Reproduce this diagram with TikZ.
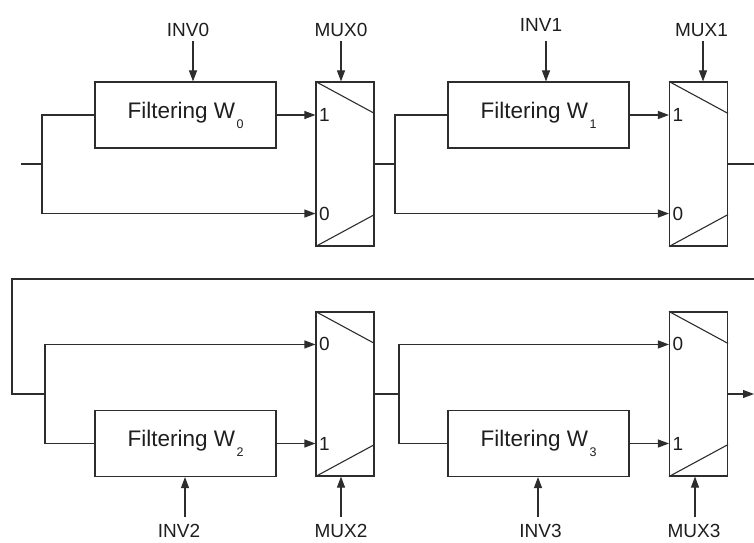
\documentclass[tikz,border=0pt]{standalone}
\usepackage{fontspec}
\setmainfont{Liberation Sans}
\usetikzlibrary{positioning,arrows.meta,calc}
\definecolor{wire}{RGB}{45,45,45}
\definecolor{ink}{RGB}{30,30,30}
\tikzset{
  wireline/.style = {draw=wire, line width=1.1pt},
  sig/.style      = {wireline, -{Triangle[length=11pt,width=8pt]}},
  filt/.style     = {wireline, minimum width=181pt, minimum height=66pt, inner sep=0pt,
                     font=\fontsize{22.5}{26}\selectfont, text=ink},
  mux/.style      = {wireline, minimum width=58pt, minimum height=164pt, inner sep=0pt},
  lbl/.style      = {font=\fontsize{19}{22}\selectfont, text=ink, inner sep=0pt},
  pin/.style      = {lbl, anchor=west},
}
\newcommand{\wsub}[1]{\kern1.5pt\raisebox{-10pt}{\fontsize{12.5}{13}\selectfont #1}}

\begin{document}
\begin{tikzpicture}[x=1pt,y=1pt]
  \useasboundingbox (0,0) rectangle (754,542);
  % stage 0 and 1
  \node[filt] (f0) at (185.5,427) {Filtering W\wsub{0}};
  \node[mux]  (m0) at (345,378) {};
  \node[filt] (f1) at (538.5,427) {Filtering W\wsub{1}};
  \node[mux]  (m1) at (698.5,378) {};
  % stage 2 and 3
  \node[filt] (f2) at (185.5,98.5) {Filtering W\wsub{2}};
  \node[mux]  (m2) at (345,148) {};
  \node[filt] (f3) at (538.5,98.5) {Filtering W\wsub{3}};
  \node[mux]  (m3) at (698.5,148) {};
  \foreach \m in {m0,m1,m2,m3} {
    \draw[wireline] (\m.north west) -- ($(\m.north east)+(0,-32)$);
    \draw[wireline] (\m.south west) -- ($(\m.south east)+(0,32)$);
  }
  % branch points and free ends
  \coordinate (in0) at (21,378);
  \coordinate (b0) at (42,378);
  \coordinate (b1) at (395,378);
  \coordinate (out1) at (754,378);
  \coordinate (fbR) at (754,263);
  \coordinate (fbL) at (12,263);
  \coordinate (b2) at (45,148);
  \coordinate (b3) at (399,148);
  \coordinate (out3) at (754,148);
  \coordinate (m0lo) at ($(m0.south west)+(0,33)$);
  \coordinate (m1lo) at ($(m1.south west)+(0,33)$);
  \coordinate (m2hi) at ($(m2.north west)+(0,-33)$);
  \coordinate (m3hi) at ($(m3.north west)+(0,-33)$);
  % upper row wiring
  \draw[wireline] (in0) -- (b0);
  \draw[wireline] (b0) |- (f0.west);
  \draw[sig] (f0.east) -- (f0.east -| m0.west);
  \draw[sig] (b0) |- (m0lo);
  \draw[wireline] (m0.east) -- (b1);
  \draw[wireline] (b1) |- (f1.west);
  \draw[sig] (f1.east) -- (f1.east -| m1.west);
  \draw[sig] (b1) |- (m1lo);
  \draw[wireline] (m1.east) -- (out1);
  % feedback and lower row wiring
  \draw[wireline] (fbR) -- (fbL) |- (b2);
  \draw[wireline] (b2) |- (f2.west);
  \draw[sig] (f2.east) -- (f2.east -| m2.west);
  \draw[sig] (b2) |- (m2hi);
  \draw[wireline] (m2.east) -- (b3);
  \draw[wireline] (b3) |- (f3.west);
  \draw[sig] (f3.east) -- (f3.east -| m3.west);
  \draw[sig] (b3) |- (m3hi);
  \draw[sig] (m3.east) -- (out3);
  % mux input numbers
  \node[pin] (p0a) at ($(f0.east -| m0.west)+(3.5,0)$) {1};
  \node[pin] (p0b) at ($(m0lo)+(3.5,0)$) {0};
  \node[pin] (p1a) at ($(f1.east -| m1.west)+(3.5,0)$) {1};
  \node[pin] (p1b) at ($(m1lo)+(3.5,0)$) {0};
  \node[pin] (p2a) at ($(m2hi)+(3.5,0)$) {0};
  \node[pin] (p2b) at ($(f2.east -| m2.west)+(3.5,0)$) {1};
  \node[pin] (p3a) at ($(m3hi)+(3.5,0)$) {0};
  \node[pin] (p3b) at ($(f3.east -| m3.west)+(3.5,0)$) {1};
  % control inputs
  \coordinate (ti0) at (193,501);
  \coordinate (tm0) at (341,501);
  \coordinate (ti1) at (546,501);
  \coordinate (tm1) at (703,501);
  \coordinate (ti2) at (185,25);
  \coordinate (tm2) at (341,25);
  \coordinate (ti3) at (538,25);
  \coordinate (tm3) at (695,25);
  \node[lbl, above=4pt of ti0, xshift=-5pt] (inv0) {INV0};
  \node[lbl, above=4pt of tm0] (mux0) {MUX0};
  \node[lbl, above=9pt of ti1, xshift=-5pt] (inv1) {INV1};
  \node[lbl, above=4pt of tm1, xshift=-1.5pt] (mux1) {MUX1};
  \node[lbl, below=7pt of ti2, xshift=-6pt] (inv2) {INV2};
  \node[lbl, below=7pt of tm2] (mux2) {MUX2};
  \node[lbl, below=7pt of ti3, xshift=2.5pt] (inv3) {INV3};
  \node[lbl, below=7pt of tm3, xshift=-1pt] (mux3) {MUX3};
  \draw[sig] (ti0) -- (ti0 |- f0.north);
  \draw[sig] (tm0) -- (tm0 |- m0.north);
  \draw[sig] (ti1) -- (ti1 |- f1.north);
  \draw[sig] (tm1) -- (tm1 |- m1.north);
  \draw[sig] (ti2) -- (ti2 |- f2.south);
  \draw[sig] (tm2) -- (tm2 |- m2.south);
  \draw[sig] (ti3) -- (ti3 |- f3.south);
  \draw[sig] (tm3) -- (tm3 |- m3.south);
\end{tikzpicture}
\end{document}
